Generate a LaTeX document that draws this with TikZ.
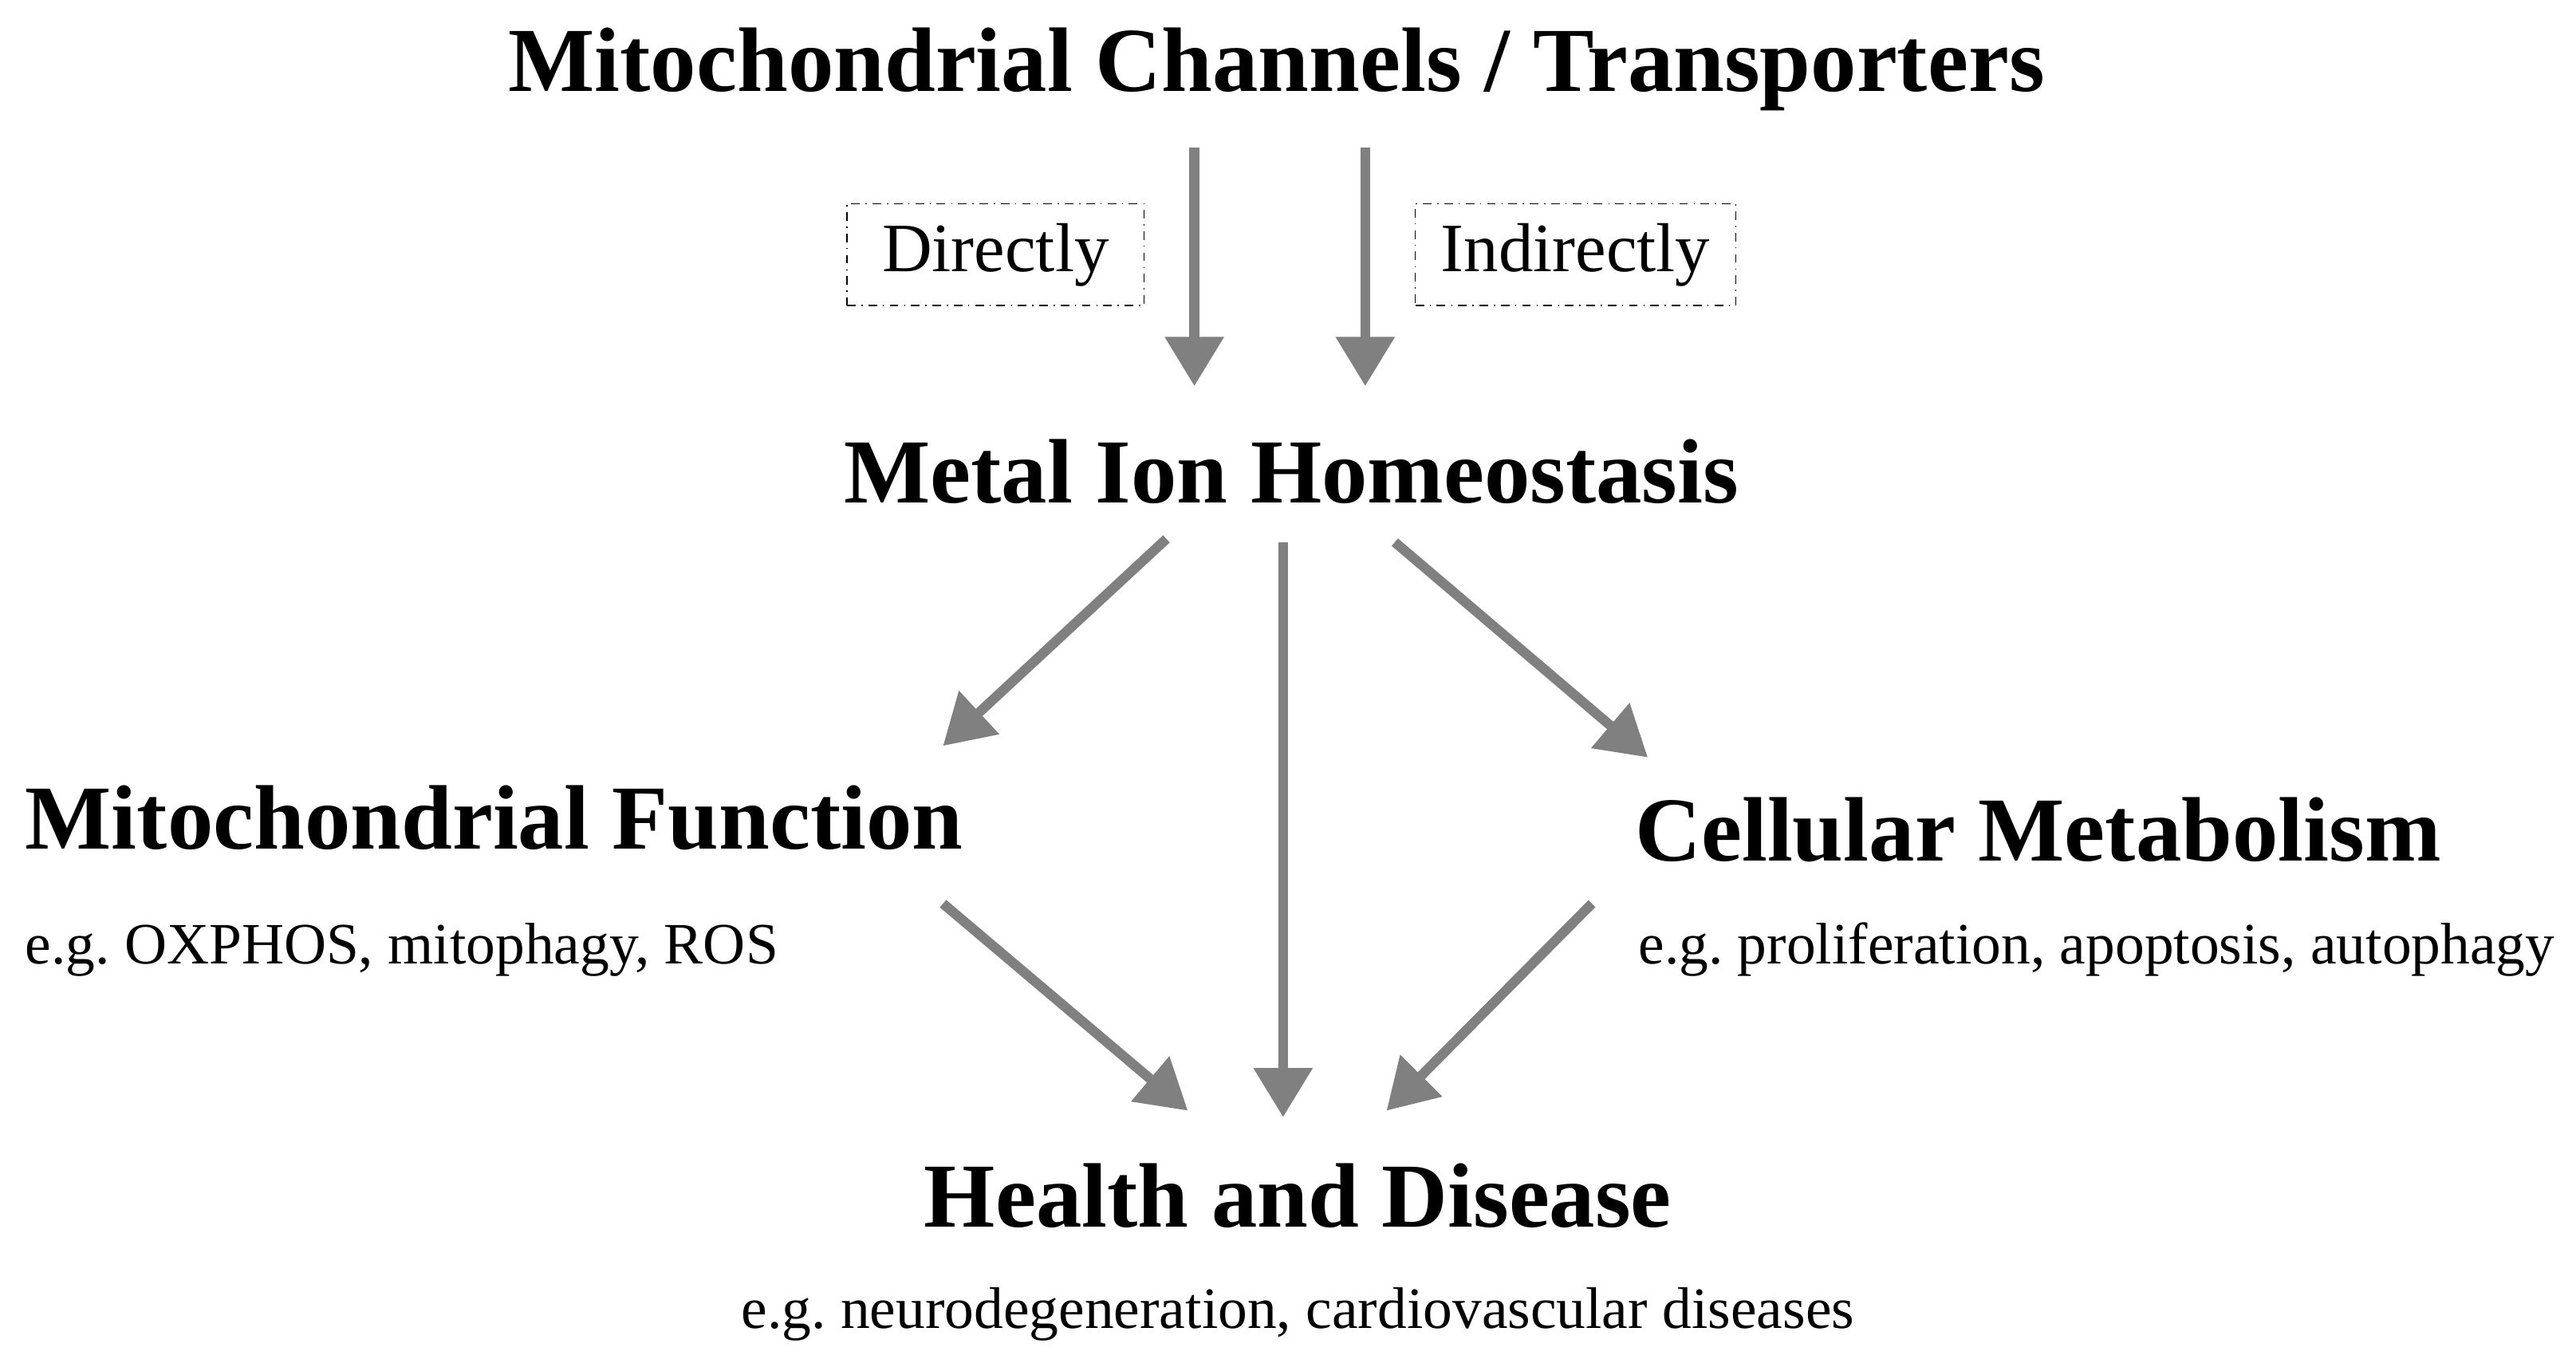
\documentclass[tikz,border=0pt]{standalone}
\usepackage{fontspec}
\setmainfont{Liberation Serif}
\usetikzlibrary{arrows.meta, positioning}

\begin{document}
\frenchspacing
\begin{tikzpicture}[x=0.02cm, y=-0.02cm,
            head/.style={font=\fontsize{31.7}{34}\selectfont\bfseries, inner sep=0pt},
            note/.style={font=\fontsize{20.3}{22}\selectfont, inner sep=0pt},
            tag/.style={draw, dash dot, thin, font=\fontsize{24}{26}\selectfont, minimum width=3.62cm, minimum height=1.24cm},
            flow/.style={draw=black!50, line width=3.4pt, -{Triangle[length=0.6cm, width=0.75cm, angle'=60]}}
        ]
            \useasboundingbox (0,0) rectangle (1568,832);

            % Headings
            \node[head] (chan) at (777,42) {Mitochondrial Channels / Transporters};
            \node[head] (ion) at (786,287) {Metal Ion Homeostasis};
            \node[head, anchor=west] (func) at (15,498) {Mitochondrial Function};
            \node[head, anchor=west] (meta) at (995,505) {Cellular Metabolism};
            \node[head] (dis) at (790,728) {Health and Disease};

            % Examples
            \node[note, anchor=west] (funcx) at (15,578) {e.g. OXPHOS, mitophagy, ROS};
            \node[note, anchor=west] (metax) at (997,578) {e.g. proliferation, apoptosis, autophagy};
            \node[note] (disx) at (790,800) {e.g. neurodegeneration, cardiovascular diseases};

            % Labels
            \node[tag] (dir) at (606,155) {Directly};
            \node[tag, minimum width=3.9cm] (indir) at (959,155) {Indirectly};

            % Arrow ends
            \coordinate (a1) at (727,90);  \coordinate (b1) at (727,235);
            \coordinate (a2) at (831,90);  \coordinate (b2) at (831,235);
            \coordinate (a3) at (710,328); \coordinate (b3) at (574,454);
            \coordinate (a4) at (781,330); \coordinate (b4) at (781,680);
            \coordinate (a5) at (849,330); \coordinate (b5) at (1003,461);
            \coordinate (a6) at (574,550); \coordinate (b6) at (723,676);
            \coordinate (a7) at (969,550); \coordinate (b7) at (844,676);

            % Connections
            \foreach \i in {1,...,7}
                \draw[flow] (a\i) -- (b\i);
        \end{tikzpicture}
\end{document}
